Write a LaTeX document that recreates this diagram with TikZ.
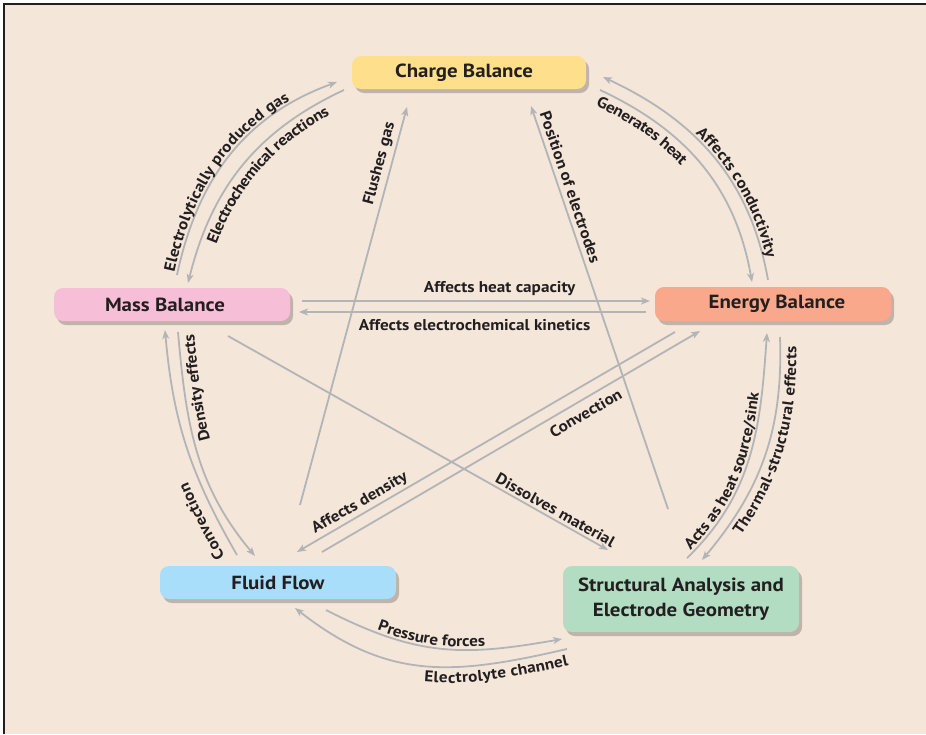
\documentclass[tikz,border=0pt]{standalone}
\usepackage{fontspec}
\setmainfont{PT Sans}[FakeStretch=1.1]
\usetikzlibrary{arrows.meta,calc,shadows,decorations.text}
\definecolor{bg}{HTML}{F5E6DA}
\definecolor{gr}{HTML}{B2B4B6}
\definecolor{txt}{HTML}{231F20}
\definecolor{cCharge}{HTML}{FEE08C}
\definecolor{cMass}{HTML}{F7BED8}
\definecolor{cEnergy}{HTML}{F9A88B}
\definecolor{cFluid}{HTML}{A8DEFA}
\definecolor{cStruct}{HTML}{B2DDC2}
\newcommand\nfont{\fontsize{19}{25}\selectfont\bfseries}
\newcommand\lfont{\fontsize{15.6}{18}\selectfont\bfseries}
\begin{document}
\begin{tikzpicture}[x=1pt,y=1pt,
  box/.style={rounded corners=9pt, minimum width=236pt, minimum height=33pt, text=txt,
    font=\nfont, align=center, inner sep=2pt,
    drop shadow={shadow xshift=3pt, shadow yshift=-4pt, fill=black, opacity=0.22}},
  arr/.style={draw=gr, line width=1.8pt, -{Stealth[length=9pt,width=7pt,inset=2.5pt]}},
  lab/.style={font=\lfont, text=txt, inner sep=2.5pt},
  clab/.style n args={3}{decorate, decoration={text along path,
    text={|\lfont\color{txt}|#1}, text align={#2}, raise=#3}},
  ]
\useasboundingbox (0,0) rectangle (926,-734);
\fill[bg] (4,-4) rectangle (926,-734);
\draw[line width=1.5pt, txt] (4,-734) -- (4,-4) -- (926,-4);

% nodes
\node[box, fill=cCharge, minimum width=234pt] (charge) at (469,-72.5) {\hspace*{-10pt}Charge Balance};
\node[box, fill=cMass] (mass) at (172,-304.5) {\hspace*{-14pt}Mass Balance};
\node[box, fill=cEnergy, minimum height=34pt] (energy) at (773,-304) {\hspace*{8pt}Energy Balance};
\node[box, fill=cFluid] (fluid) at (278,-582.5) {Fluid Flow};
\node[box, fill=cStruct, minimum height=66pt] (struct) at (681,-599) {Structural Analysis and\\Electrode Geometry};

% Mass <-> Charge
\draw[arr] ($(mass)+(5,29.5)$) to[out=78,in=200] ($(charge)+(-132,-9.5)$);
\path[clab={Electrolytically produced gas}{left, left indent=2pt}{3pt}]
  ($(mass)+(5,29.5)$) to[out=78,in=200] ($(charge)+(-132,-9.5)$);
\draw[arr] ($(charge)+(-125,-17.5)$) to[out=205,in=76] ($(mass)+(16,21.5)$);
\path[clab={Electrochemical reactions}{left, left indent=46pt}{-16pt}]
  ($(mass)+(16,21.5)$) to[out=76,in=205] ($(charge)+(-125,-17.5)$);

% Energy <-> Charge
\draw[arr] ($(energy)+(-5,24)$) to[out=100,in=-25] ($(charge)+(134,-4.5)$);
\path[clab={Affects conductivity}{left, left indent=108pt}{3pt}]
  ($(charge)+(134,-4.5)$) to[out=-25,in=100] ($(energy)+(-5,24)$);
\draw[arr] ($(charge)+(131,-17.5)$) to[out=-25,in=100] ($(energy)+(-21,22)$);
\path[clab={Generates heat}{left, left indent=3pt}{-16pt}]
  ($(charge)+(131,-17.5)$) to[out=-25,in=100] ($(energy)+(-21,22)$);

% Mass <-> Energy
\draw[arr] ($(mass)+(130,3.5)$) -- node[lab, above=2pt, pos=0.568]{Affects heat capacity} ($(energy)+(-123,3)$);
\draw[arr] ($(energy)+(-127,-8)$) -- node[lab, below=4pt, pos=0.494]{Affects electrochemical kinetics} ($(mass)+(127,-7.5)$);

% Mass <-> Fluid
\draw[arr] ($(fluid)+(-41,27.5)$) to[out=120,in=-85] ($(mass)+(-7,-25.5)$);
\path[clab={Convection}{left, left indent=5pt}{11pt}]
  ($(fluid)+(-41,27.5)$) to[out=120,in=-85] ($(mass)+(-7,-25.5)$);
\draw[arr] ($(mass)+(6,-27.5)$) to[out=-85,in=130] ($(fluid)+(-23,26.5)$);
\path[clab={Density effects}{right, right indent=4pt}{-16pt}]
  ($(fluid)+(-23,26.5)$) to[out=130,in=-85] ($(mass)+(6,-27.5)$);

% Energy <-> Structural
\draw[arr] ($(energy)+(7,-33)$) to[out=-88,in=50] ($(struct)+(21,39)$);
\path[clab={Thermal-structural effects}{left, left indent=42pt}{-16pt}]
  ($(struct)+(21,39)$) to[out=50,in=-88] ($(energy)+(7,-33)$);
\draw[arr] ($(struct)+(6,41)$) to[out=44,in=-94] ($(energy)+(-6,-29)$);
\path[clab={Acts as heat source/sink}{left, left indent=8pt}{3pt}]
  ($(struct)+(6,41)$) to[out=44,in=-94] ($(energy)+(-6,-29)$);

% Fluid <-> Structural
\draw[arr] ($(fluid)+(48,-27.5)$) to[out=-27,in=190,looseness=1.1] ($(struct)+(-119,-40)$);
\path[clab={Pressure forces}{left, left indent=55pt}{3pt}]
  ($(fluid)+(48,-27.5)$) to[out=-27,in=190,looseness=1.1] ($(struct)+(-119,-40)$);
\draw[arr] ($(struct)+(-114,-50)$) to[out=193,in=-38,looseness=1.1] ($(fluid)+(17,-25.5)$);
\path[clab={Electrolyte channel}{right, right indent=2pt}{-16pt}]
  ($(fluid)+(17,-25.5)$) to[out=-38,in=193,looseness=1.1] ($(struct)+(-114,-50)$);

% straight diagonals
\draw[arr] ($(fluid)+(22,77.5)$) -- node[lab, sloped, above=1pt, pos=0.85]{Flushes gas} ($(charge)+(-62,-34.5)$);
\draw[arr] ($(struct)+(-13,90)$) -- node[lab, sloped, above=2pt, pos=0.79]{Position of electrodes} ($(charge)+(62,-33.5)$);
\draw[arr] ($(mass)+(56,-31.5)$) -- node[lab, sloped, above, pos=0.85]{Dissolves material} ($(struct)+(-73,49)$);
\draw[arr] ($(energy)+(-98,-28)$) -- node[lab, sloped, above, pos=0.82]{Affects density} ($(fluid)+(19,30.5)$);
\draw[arr] ($(fluid)+(44,30.5)$) -- node[lab, sloped, below=4pt, pos=0.68]{Convection} ($(energy)+(-73,-27)$);
\end{tikzpicture}
\end{document}
